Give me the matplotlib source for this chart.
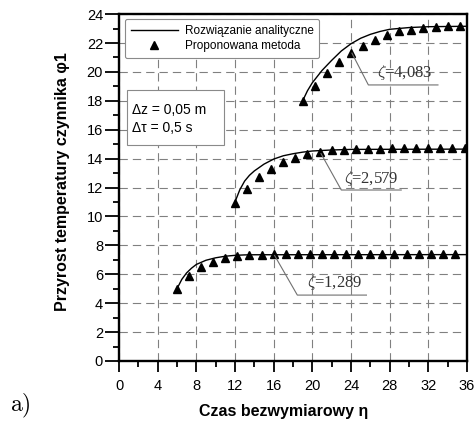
import matplotlib
matplotlib.use("Agg")
import matplotlib.pyplot as plt
from matplotlib.patches import Rectangle
from matplotlib.ticker import MultipleLocator

plt.rcParams['font.family'] = ['Liberation Sans', 'DejaVu Sans']
plt.rcParams['mathtext.fontset'] = 'cm'

# ---- data ----
# proposed method (triangles)
eta_1 = [6, 7.25, 8.5, 9.75, 11, 12.25, 13.5, 14.75, 16, 17.25, 18.5, 19.75,
         21, 22.25, 23.5, 24.75, 26, 27.25, 28.5, 29.75, 31, 32.25, 33.5, 34.75]
phi_1 = [4.98, 5.85, 6.48, 6.87, 7.1, 7.25, 7.32, 7.36, 7.38, 7.38, 7.38, 7.38,
         7.38, 7.38, 7.38, 7.38, 7.38, 7.38, 7.38, 7.38, 7.38, 7.38, 7.38, 7.38]

eta_2 = [12, 13.25, 14.5, 15.75, 17, 18.25, 19.5, 20.75, 22, 23.25, 24.5, 25.75,
         27, 28.25, 29.5, 30.75, 32, 33.25, 34.5, 35.75]
phi_2 = [10.95, 11.87, 12.7, 13.25, 13.76, 14.06, 14.29, 14.45, 14.57, 14.63,
         14.66, 14.68, 14.7, 14.71, 14.72, 14.72, 14.72, 14.72, 14.72, 14.72]

eta_3 = [19, 20.25, 21.5, 22.75, 24, 25.25, 26.5, 27.75, 29, 30.25, 31.5, 32.75,
         34, 35.25]
phi_3 = [18.0, 19.04, 19.9, 20.7, 21.3, 21.8, 22.2, 22.55, 22.8, 22.92, 23.03,
         23.12, 23.16, 23.2]

# analytic solution (solid lines)
eta_a1 = [6, 6.5, 7, 7.5, 8, 9, 10, 11, 12, 13, 14, 36]
phi_a1 = [5.0, 5.65, 6.1, 6.42, 6.68, 6.97, 7.14, 7.25, 7.31, 7.34, 7.35, 7.36]

eta_a2 = [12, 12.5, 13, 13.5, 14, 15, 16, 17, 18, 19, 20, 22, 24, 36]
phi_a2 = [11.0, 11.85, 12.45, 12.85, 13.15, 13.62, 13.97, 14.2, 14.34, 14.45,
          14.53, 14.6, 14.64, 14.66]

eta_a3 = [19, 19.5, 20, 21, 22, 23, 24, 25, 26, 27, 28, 30, 32, 36]
phi_a3 = [18.0, 18.7, 19.25, 20.1, 20.8, 21.45, 21.95, 22.33, 22.6, 22.8, 22.95,
          23.07, 23.13, 23.16]

# curve labels: text, leader start, elbow, end of underline, text position
zeta_labels = [r'$\zeta$=1,289', r'$\zeta$=2,579', r'$\zeta$=4,083']
lead_start = [(16.1, 7.3), (20.9, 14.35), (24.1, 21.3)]
lead_elbow = [(18.45, 4.56), (23.0, 11.83), (25.8, 19.1)]
lead_end = [25.6, 29.2, 33.0]
text_pos = [(19.5, 4.75), (23.3, 12.0), (26.7, 19.3)]

xticks = list(range(0, 37, 4))
yticks = list(range(0, 25, 2))

# ---- figure ----
fig = plt.figure(figsize=(4.76, 4.23), dpi=100)
ax = fig.add_axes([0.25, 0.1466, 0.731, 0.820])

ax.grid(True, which='major', ls=(0, (7.5, 4.5)), color='#808080', lw=0.8)
ax.set_axisbelow(True)

ln, = ax.plot(eta_a1, phi_a1, color='black', lw=1.0, label='Rozwiązanie analityczne')
ax.plot(eta_a2, phi_a2, color='black', lw=1.0)
ax.plot(eta_a3, phi_a3, color='black', lw=1.0)

mk, = ax.plot(eta_1, phi_1, '^', color='black', ms=5.5, label='Proponowana metoda')
ax.plot(eta_2, phi_2, '^', color='black', ms=5.5)
ax.plot(eta_3, phi_3, '^', color='black', ms=5.5)

for lab, s, e, xe, tp in zip(zeta_labels, lead_start, lead_elbow, lead_end, text_pos):
    ax.plot([s[0], e[0], xe], [s[1], e[1], e[1]], color='#707070', lw=0.8)
    ax.text(tp[0], tp[1], lab, fontsize=12, family=['Liberation Serif', 'DejaVu Serif'],
            color='#333333', va='bottom', ha='left')

ax.set_xlim(0, 36)
ax.set_ylim(0, 24)
ax.set_xticks(xticks)
ax.set_yticks(yticks)
ax.xaxis.set_minor_locator(MultipleLocator(2))
ax.yaxis.set_minor_locator(MultipleLocator(1))
ax.tick_params(axis='x', which='major', direction='out', length=8, width=1.3,
               pad=5, labelsize=10.5)
ax.tick_params(axis='x', which='minor', direction='out', length=4, width=1.3)
ax.tick_params(axis='y', which='major', direction='out', length=10, width=1.3,
               pad=1.5, labelsize=10.5)
ax.tick_params(axis='y', which='minor', direction='out', length=4, width=1.3)
for sp in ax.spines.values():
    sp.set_linewidth(1.7)

ax.set_xlabel('Czas bezwymiarowy η', fontsize=11.5, fontweight='bold')
ax.set_ylabel('Przyrost temperatury czynnika φ1', fontsize=11.5, fontweight='bold')
ax.xaxis.set_label_coords(0.474, -0.125)
ax.yaxis.set_label_coords(-0.141, 0.517)

leg = ax.legend(handles=[ln, mk], loc='upper left', bbox_to_anchor=(0.017, 0.986),
                borderaxespad=0, handlelength=4.0, handletextpad=0.55,
                borderpad=0.5, labelspacing=0.3, fancybox=True,
                prop={'size': 8.5})
leg.get_frame().set_edgecolor('#8a8a8a')
leg.get_frame().set_linewidth(0.8)
leg.get_frame().set_alpha(1)

ax.add_patch(Rectangle((0.023, 0.622), 0.279, 0.159, transform=ax.transAxes,
                       facecolor='white', edgecolor='#8a8a8a', lw=0.8, zorder=4))
ax.text(0.037, 0.723, 'Δz = 0,05 m', transform=ax.transAxes, fontsize=10,
        va='center', ha='left', zorder=5)
ax.text(0.037, 0.671, 'Δτ = 0,5 s', transform=ax.transAxes, fontsize=10,
        va='center', ha='left', zorder=5)

fig.text(0.02, 0.04, r'$\mathrm{a)}$', fontsize=17, ha='left', va='center')

fig.savefig('out.png', dpi=100)
